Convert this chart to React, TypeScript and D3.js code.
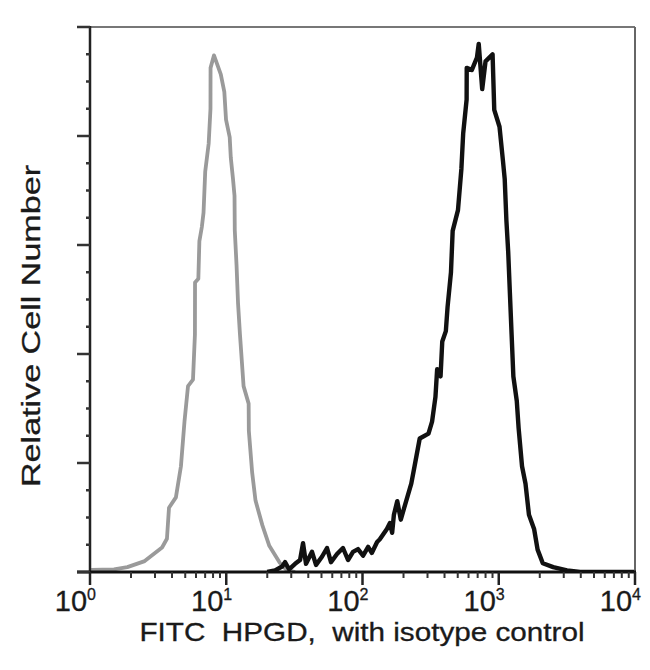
import * as d3 from 'd3'

// isotype control (grey) histogram
const isoX = [1.02, 1.5, 1.88, 2.52, 3.38, 3.67, 3.8, 4.27, 4.65, 4.94, 5.24, 5.7, 5.89, 5.9, 6.24, 6.35, 6.62, 6.81, 7.01, 7.43, 7.66, 7.67, 8.13, 9.12, 9.68, 9.96, 10.6, 10.8, 11.2, 11.5, 11.55, 11.9, 12.2, 12.6, 13.4, 14.6, 14.65, 15.5, 16.4, 18.4, 20.7, 24.7, 27.7, 32]
const isoY = [0.4, 0.5, 0.9, 2.0, 4.5, 6.1, 11.8, 13.7, 19.4, 27.7, 34.1, 35.3, 43.6, 53.1, 53.8, 60.7, 63.3, 65.9, 73.5, 78.6, 85.0, 92.5, 94.8, 91.3, 88.1, 83.0, 79.8, 76.0, 72.2, 69.0, 62.7, 56.3, 49.4, 43.7, 34.1, 30.9, 25.9, 18.2, 13.1, 8.6, 4.8, 1.7, 0.4, 0]

// HPGD stained (black) histogram
const hpgdX = [20, 22.8, 25.7, 27, 28.9, 32, 34.8, 36.6, 38.5, 42.6, 45.6, 50.4, 54.9, 58.7, 65, 71.9, 78.3, 85.2, 92.7, 101, 110, 117, 128, 134, 151, 159, 165, 170, 180, 191, 202, 228, 241, 263, 305, 324, 343, 353, 374, 385, 409, 421, 446, 459, 502, 532, 548, 581, 582, 634, 692, 713, 756, 800, 901, 927, 1013, 1075, 1106, 1138, 1173, 1207, 1243, 1280, 1356, 1399, 1482, 1572, 1666, 1817, 1928, 2105, 2510, 3170, 3950, 10000]
const hpgdY = [0, 0.3, 1.0, 1.8, 0.5, 1.5, 2.2, 5.3, 1.5, 3.7, 1.3, 2.8, 4.4, 1.8, 3.3, 4.4, 2.2, 3.7, 4.2, 3.0, 4.6, 3.5, 5.5, 6.0, 7.9, 9.0, 7.2, 10.5, 13.0, 9.6, 11.7, 16.2, 19.4, 24.5, 25.4, 27.6, 32.1, 37.2, 35.9, 42.3, 44.2, 48.6, 55.0, 62.6, 66.4, 74.0, 80.4, 86.7, 92.5, 92.1, 94.4, 96.9, 88.6, 93.7, 95.0, 84.8, 81.7, 75.3, 72.1, 64.5, 58.8, 51.2, 43.5, 35.9, 31.4, 26.4, 19.4, 16.2, 10.5, 7.9, 4.1, 1.6, 0.9, 0.3, 0, 0]

const xDecades = [0, 1, 2, 3, 4]
const yMajor = [0, 20, 40, 60, 80, 100]
const yMinor = [5, 10, 15, 25, 30, 35, 45, 50, 55, 65, 70, 75, 85, 90, 95]

const W = 650
const H = 670
const left = 90, right = 635, top = 27, bottom = 572

export default function App() {
  const x = d3.scaleLog().domain([1, 10000]).range([left, right])
  const y = d3.scaleLinear().domain([0, 100]).range([bottom, top])

  const line = d3.line<[number, number]>()
    .x(d => x(d[0]))
    .y(d => y(d[1]))

  const iso = isoX.map((v, i) => [v, isoY[i]] as [number, number])
  const hpgd = hpgdX.map((v, i) => [v, hpgdY[i]] as [number, number])

  const minorX: number[] = []
  xDecades.slice(0, -1).forEach(d => {
    for (let k = 2; k <= 9; k++) minorX.push(k * Math.pow(10, d))
  })

  const font = '"Liberation Sans", Arial, Helvetica, sans-serif'

  return (
    <div style={{ position: 'fixed', left: 0, top: 0 }}>
      <svg width={W} height={H} style={{ display: 'block', background: '#fff' }}>
        <defs>
          <clipPath id="plot">
            <rect x={left} y={top - 10} width={right - left} height={bottom - top + 10} />
          </clipPath>
        </defs>

        <g clipPath="url(#plot)" fill="none" strokeLinejoin="round">
          <path d={line(iso) ?? ''} stroke="#9a9a9a" strokeWidth={3.8} />
          <path d={line(hpgd) ?? ''} stroke="#111" strokeWidth={4.4} />
        </g>

        {/* frame */}
        <line x1={left - 13} x2={right} y1={top} y2={top} stroke="#777" strokeWidth={2} />
        <line x1={right} x2={right} y1={top} y2={bottom} stroke="#666" strokeWidth={2} />
        <line x1={left} x2={left} y1={top - 1} y2={bottom} stroke="#222" strokeWidth={2.5} />
        <line x1={left - 13} x2={right + 1} y1={bottom} y2={bottom} stroke="#111" strokeWidth={3} />

        {/* y ticks */}
        {yMajor.map(v => (
          <line key={'ym' + v} x1={left - 13} x2={left} y1={y(v)} y2={y(v)} stroke="#333" strokeWidth={2.5} />
        ))}
        {yMinor.map(v => (
          <line key={'yn' + v} x1={left - 4} x2={left} y1={y(v)} y2={y(v)} stroke="#333" strokeWidth={2.5} />
        ))}

        {/* x ticks */}
        {xDecades.map(d => (
          <line key={'xm' + d} x1={x(Math.pow(10, d))} x2={x(Math.pow(10, d))} y1={bottom} y2={bottom + 13} stroke="#222" strokeWidth={2.5} />
        ))}
        {minorX.map(v => (
          <line key={'xn' + v} x1={x(v)} x2={x(v)} y1={bottom} y2={bottom + 6} stroke="#333" strokeWidth={2} />
        ))}

        {/* x tick labels */}
        {xDecades.map(d => (
          <text key={'xl' + d} x={x(Math.pow(10, d)) + 6} y={611} textAnchor="end"
            fontFamily={font} fontSize={29} fill="#1a1a1a" stroke="#1a1a1a" strokeWidth={0.3}>
            10<tspan fontSize={16} dy={-11}>{d}</tspan>
          </text>
        ))}

        <text x={362} y={641} textAnchor="middle" fontFamily={font} fontSize={25} fill="#1a1a1a"
          stroke="#1a1a1a" strokeWidth={0.3}
          textLength={445} lengthAdjust="spacingAndGlyphs" style={{ whiteSpace: 'pre' }}>
          FITC  HPGD,  with isotype control
        </text>

        <text transform="translate(40,326) rotate(-90)" textAnchor="middle" fontFamily={font}
          fontSize={25} fill="#1a1a1a" stroke="#1a1a1a" strokeWidth={0.3}
          textLength={322} lengthAdjust="spacingAndGlyphs">
          Relative Cell Number
        </text>
      </svg>
    </div>
  )
}
